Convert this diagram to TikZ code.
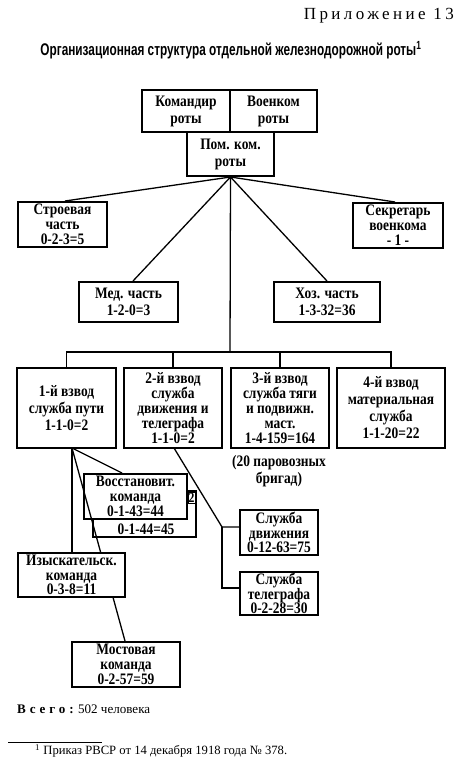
\documentclass[tikz,border=0pt]{standalone}
\usepackage{fontspec}
\setmainfont{Liberation Serif}
\newfontfamily\titlefont[FakeStretch=0.7]{Liberation Sans}
\newfontfamily\boxfont[FakeStretch=0.84]{Liberation Serif}
\usetikzlibrary{backgrounds}
\begin{document}
\begin{tikzpicture}[x=1pt,y=-1pt,
  box/.style={draw, line width=2pt, fill=white, inner sep=0pt, align=center,
    font=\boxfont\fontsize{16}{17}\selectfont\bfseries},
  tight/.style={font=\boxfont\fontsize{16}{14.8}\selectfont\bfseries},
  conn/.style={line width=1.3pt},
  plain/.style={inner sep=0pt, align=center}]
\useasboundingbox (0,0) rectangle (455,760);
\begin{scope}[on background layer]
\fill[white] (0,0) rectangle (455,760);
\end{scope}

% header and title
\node[plain, anchor=east, font=\fontsize{17}{17}\selectfont\addfontfeature{LetterSpace=20}] (hdr) at (454,16) {Приложение 13};
\node[plain] (title) at (231,50) {\resizebox{381pt}{!}{\titlefont\fontsize{13}{13}\selectfont\bfseries Организационная структура отдельной железнодорожной роты\textsuperscript{1}}};

% command
\node[box, minimum width=88pt, minimum height=42pt] (kom) at (186,111) {Командир\\роты};
\node[box, minimum width=87pt, minimum height=42pt] (voen) at (273.5,111) {Военком\\роты};
\node[box, minimum width=87pt, minimum height=44pt] (pom) at (230.5,154) {Пом. ком.\\роты};

\node[box, tight, minimum width=89pt, minimum height=45pt] (stroe) at (62.5,224.5) {Строевая\\часть\\0-2-3=5};
\node[box, tight, minimum width=90pt, minimum height=45pt] (sekr) at (398,225.5) {Секретарь\\военкома\\- 1 -};
\node[box, minimum width=99pt, minimum height=40pt] (med) at (128.5,302) {Мед. часть\\1-2-0=3};
\node[box, minimum width=106pt, minimum height=40pt] (hoz) at (327,302) {Хоз. часть\\1-3-32=36};

% platoons
\node[box, minimum width=99pt, minimum height=80pt] (p1) at (66.5,408) {1-й взвод\\служба пути\\1-1-0=2};
\node[box, tight, minimum width=98pt, minimum height=80pt] (p2) at (173,408) {2-й взвод\\служба\\движения и\\телеграфа\\1-1-0=2};
\node[box, tight, minimum width=98pt, minimum height=80pt] (p3) at (280,408) {3-й взвод\\служба тяги\\и подвижн.\\маст.\\1-4-159=164};
\node[box, minimum width=108pt, minimum height=80pt] (p4) at (391,408) {4-й взвод\\материальная\\служба\\1-1-20=22};

\node[plain, font=\boxfont\fontsize{16}{17.5}\selectfont\bfseries] (brig) at (279,471) {(20 паровозных\\бригад)};

% sub-units
\node[box, minimum width=103pt, minimum height=46pt] (vos2) at (144.5,514) {};
\node[plain, font=\boxfont\fontsize{16}{16}\selectfont\bfseries] (vos2t) at (146,529) {0-1-44=45};
\node[plain, font=\boxfont\fontsize{14}{14}\selectfont\bfseries, draw, line width=0.8pt, inner sep=0.5pt] (two) at (191.5,498) {2};
\node[box, tight, minimum width=103pt, minimum height=45pt] (vos) at (135.5,496.5) {Восстановит.\\команда\\0-1-43=44};
\node[box, tight, minimum width=108pt, minimum height=45pt] (most) at (126,664.5) {Мостовая\\команда\\0-2-57=59};
\node[box, tight, minimum width=78pt, minimum height=45pt] (dvizh) at (279,532.5) {Служба\\движения\\0-12-63=75};
\node[box, tight, minimum width=78pt, minimum height=43pt] (teleg) at (279,593.5) {Служба\\телеграфа\\0-2-28=30};

\coordinate (p1b) at (72,448);
\draw[conn] (p1b) -- (most.north -| 125,0);
\node[box, tight, minimum width=107pt, minimum height=44pt] (izy) at (71.5,575) {Изыскательск.\\команда\\0-3-8=11};

% connectors (behind boxes)
\begin{scope}[on background layer]
\coordinate (hub) at (pom.south);
\coordinate (bar) at (230,352);
\draw[conn] (hub) -- (65,202 |- stroe.north);
\draw[conn] (hub) -- (395,203 |- sekr.north);
\draw[conn] (hub) -- (133,282 |- med.north);
\draw[conn] (hub) -- (327,282 |- hoz.north);
\draw[conn] (hub) -- (bar);
\draw[conn] (p1.north) |- (bar) -| (p4.north);
\draw[conn] (p2.north) -- (p2.north |- bar);
\draw[conn] (p3.north) -- (p3.north |- bar);
\draw[conn] (p1b) -- (122,474 |- vos.north);
\draw[conn] (p1b) -- (p1b |- izy.north);
\coordinate (p2b) at (174,448);
\coordinate (fork) at (222,527);
\draw[conn] (p2b) -- (fork) -- (fork -| dvizh.west);
\draw[conn] (fork) |- (222,588 -| teleg.west);
\end{scope}

% footer
\node[plain, anchor=west] (total) at (17,709) {\resizebox{133pt}{!}{{\addfontfeature{LetterSpace=30}\bfseries Всего:} 502 человека}};
\coordinate (rl) at (8,742);
\coordinate (rr) at (102,742);
\draw[line width=0.6pt] (rl) -- (rr);
\node[plain, anchor=west] (fn) at (35,751) {\resizebox{252pt}{!}{\textsuperscript{1} Приказ РВСР от 14 декабря 1918 года № 378.}};
\end{tikzpicture}
\end{document}
